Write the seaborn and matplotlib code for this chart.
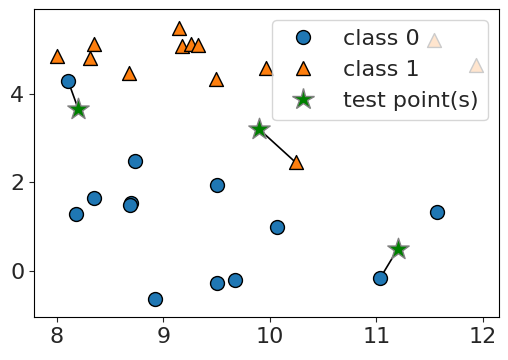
import numpy as np
import pandas as pd
import matplotlib
matplotlib.use("Agg")
import matplotlib.pyplot as plt
from matplotlib.lines import Line2D
import seaborn as sns

# forge data
x0 = [9.96346605, 11.0329545, 11.54155807, 8.69289001, 8.1062269, 8.30988863,
      11.93027136, 9.67284681, 8.34810316, 8.67494727, 9.17748385, 10.24028948,
      8.68937095, 8.92229526, 9.49123469, 9.25694192, 7.99815287, 8.18378052,
      8.7337095, 9.32298256, 10.06393839, 9.50048972, 8.34468785, 9.50169345,
      9.15072323, 11.563957]
x1 = [4.59676542, -0.16816717, 5.21116083, 1.54322016, 4.28695977, 4.80623966,
      4.64866327, -0.20283165, 5.13415623, 4.47573059, 5.09283177, 2.45544401,
      1.48709629, -0.63993225, 4.33224792, 5.13284858, 4.8525051, 1.29564214,
      2.49162431, 5.09840649, 0.99078055, -0.26430318, 1.63824349, 1.93824624,
      5.49832246, 1.3389402]
labels = [1, 0, 1, 0, 0, 1, 1, 0, 1, 1, 1, 1, 0, 0, 1, 1, 1, 0, 0, 1, 0, 0, 0, 0, 1, 0]

test_x0 = [8.2, 9.9, 11.2]
test_x1 = [3.66214339, 3.2, 0.5]

df = pd.DataFrame({"x0": x0, "x1": x1, "label": labels})
test = pd.DataFrame({"x0": test_x0, "x1": test_x1})

sns.set_style("ticks")
plt.rcParams["font.family"] = ["DejaVu Sans"]

fig = plt.figure(figsize=(5.08, 3.6), dpi=100)
ax = fig.add_axes([34 / 508, 43 / 360, 465 / 508, 308 / 360])

# line from each test point to its nearest neighbour
pts = df[["x0", "x1"]].to_numpy()
for tx, ty in zip(test_x0, test_x1):
    j = np.argmin(((pts - [tx, ty]) ** 2).sum(axis=1))
    ax.plot([tx, pts[j, 0]], [ty, pts[j, 1]], color="k", lw=1.2, zorder=1)

sns.scatterplot(data=test, x="x0", y="x1", marker="*", s=260, color="green",
                edgecolor="gray", linewidth=1, ax=ax, legend=False, zorder=3)

c0 = df[df.label == 0]
c1 = df[df.label == 1]
sns.scatterplot(data=c0, x="x0", y="x1", marker="o", s=100, color="tab:blue",
                edgecolor="k", linewidth=1, ax=ax, legend=False, zorder=2)
sns.scatterplot(data=c1, x="x0", y="x1", marker="^", s=100, color="tab:orange",
                edgecolor="k", linewidth=1, ax=ax, legend=False, zorder=2)

ax.set_xlim(7.785, 12.15)
ax.set_ylim(-1.04, 5.92)
ax.set_xlabel("")
ax.set_ylabel("")
ax.set_xticks([8, 9, 10, 11, 12])
ax.set_yticks([0, 2, 4])
ax.tick_params(labelsize=16, direction="out")
for s in ax.spines.values():
    s.set_visible(True)
    s.set_color("k")

handles = [
    Line2D([], [], ls="", marker="o", ms=10, mfc="tab:blue", mec="k"),
    Line2D([], [], ls="", marker="^", ms=10, mfc="tab:orange", mec="k"),
    Line2D([], [], ls="", marker="*", ms=16, mfc="green", mec="gray"),
]
ax.legend(handles, ["class 0", "class 1", "test point(s)"], loc="upper right",
          fontsize=16, framealpha=0.8)

fig.savefig("out.png", dpi=100)
